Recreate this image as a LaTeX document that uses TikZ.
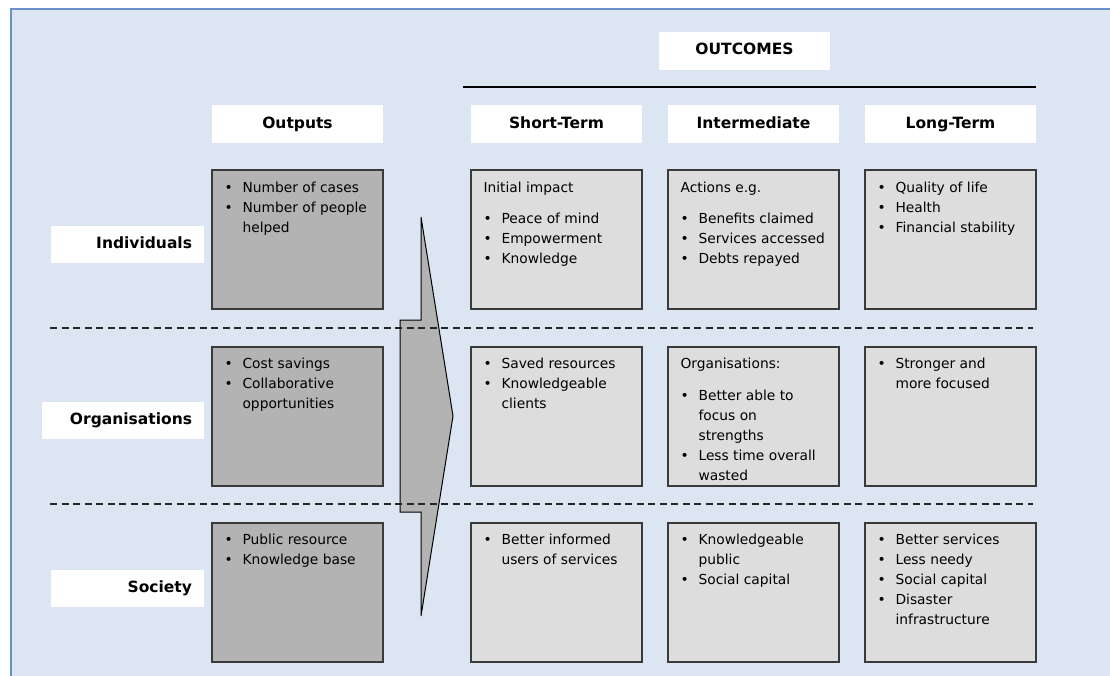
\documentclass[tikz,border=0pt]{standalone}
\usepackage{fontspec}
\setmainfont{DejaVu Sans}
\definecolor{bgblue}{RGB}{220,230,242}
\definecolor{frameblue}{RGB}{108,145,200}
\definecolor{darkfill}{RGB}{179,179,179}
\definecolor{lightfill}{RGB}{221,221,221}
\definecolor{boxline}{RGB}{58,58,58}
\newcommand\bitem[1]{\par\noindent\hangindent=18pt\hangafter=1\makebox[18pt][l]{\textbullet}#1}
\newcommand\intro[1]{\par\noindent #1\par\vskip 11.5pt}
\newcommand\boxtext[1]{\parbox[t]{158pt}{\raggedright\fontsize{13.8}{20}\selectfont #1}}
\begin{document}
\begin{tikzpicture}[x=1pt,y=-1pt,
  hdr/.style={fill=white, inner sep=0, minimum width=171pt, minimum height=38pt,
    text height=11.5pt, text depth=3.5pt, font=\fontsize{15.5}{18}\selectfont\bfseries},
  lbl/.style={fill=white, inner sep=0, minimum height=37pt,
    text height=11.5pt, text depth=3.5pt, font=\fontsize{15.5}{18}\selectfont\bfseries},
  outbox/.style={draw=boxline, line width=1.3pt, fill=darkfill, inner sep=0,
    minimum width=171pt, minimum height=139pt},
  resbox/.style={draw=boxline, line width=1.3pt, fill=lightfill, inner sep=0,
    minimum width=171pt, minimum height=139pt},
  txt/.style={inner sep=0, anchor=base west},
  sep/.style={draw=black!85, line width=1.2pt, dash pattern=on 7pt off 4.5pt},
  bigarrow/.style={draw=black, line width=1pt, fill=darkfill, line join=miter}
]
\useasboundingbox (0,0) rectangle (1110,675);
% frame
\path[fill=bgblue, draw=frameblue, line width=2.2pt] (11.3,9.3) rectangle (1130,700);

% big arrow
\path[bigarrow] (421,217) -- (453,416) -- (421,616) -- (421,512) -- (400,512)
  -- (400,320) -- (421,320) -- cycle;

% dashed separators
\coordinate (d1a) at (50,328); \coordinate (d1b) at (1033,328);
\coordinate (d2a) at (50,504); \coordinate (d2b) at (1033,504);
\draw[sep] (d1a) -- (d1b);
\draw[sep] (d2a) -- (d2b);

% OUTCOMES header and rule
\node[hdr] (outcomes) at (744.5,50.5) {OUTCOMES};
\coordinate (ra) at (463,87); \coordinate (rb) at (1036,87);
\draw[line width=1.2pt] (ra) -- (rb);

% column headers
\node[hdr] (hout) at (297.5,124) {Outputs};
\node[hdr] (hst)  at (556.5,124) {Short-Term};
\node[hdr] (hint) at (753.5,124) {Intermediate};
\node[hdr] (hlt)  at (950.5,124) {Long-Term};

% row labels
\node[lbl, minimum width=153pt] (lind) at (127.5,244.5) {\makebox[129pt][r]{Individuals}};
\node[lbl, minimum width=162pt] (lorg) at (123,420.5) {\makebox[138pt][r]{Organisations}};
\node[lbl, minimum width=153pt] (lsoc) at (127.5,588) {\makebox[129pt][r]{Society}};

% boxes row 1
\node[outbox] (o1) at (297.5,239.5) {};
\node[resbox] (s1) at (556.5,239.5) {};
\node[resbox] (i1) at (753.5,239.5) {};
\node[resbox] (l1) at (950.5,239.5) {};
% row 2
\node[outbox] (o2) at (297.5,416.5) {};
\node[resbox] (s2) at (556.5,416.5) {};
\node[resbox] (i2) at (753.5,416.5) {};
\node[resbox] (l2) at (950.5,416.5) {};
% row 3
\node[outbox] (o3) at (297.5,592.5) {};
\node[resbox] (s3) at (556.5,592.5) {};
\node[resbox] (i3) at (753.5,592.5) {};
\node[resbox] (l3) at (950.5,592.5) {};

% texts
\node[txt] (o1t) at ([shift={(13,23)}]o1.north west) {\boxtext{%
  \bitem{Number of cases}\bitem{Number of people\newline helped}}};
\node[txt] (s1t) at ([shift={(13,23)}]s1.north west) {\boxtext{%
  \intro{Initial impact}\bitem{Peace of mind}\bitem{Empowerment}\bitem{Knowledge}}};
\node[txt] (i1t) at ([shift={(13,23)}]i1.north west) {\boxtext{%
  \intro{Actions e.g.}\bitem{Benefits claimed}\bitem{Services accessed}\bitem{Debts repayed}}};
\node[txt] (l1t) at ([shift={(13,23)}]l1.north west) {\boxtext{%
  \bitem{Quality of life}\bitem{Health}\bitem{Financial stability}}};

\node[txt] (o2t) at ([shift={(13,22.5)}]o2.north west) {\boxtext{%
  \bitem{Cost savings}\bitem{Collaborative\newline opportunities}}};
\node[txt] (s2t) at ([shift={(13,22.5)}]s2.north west) {\boxtext{%
  \bitem{Saved resources}\bitem{Knowledgeable\newline clients}}};
\node[txt] (i2t) at ([shift={(13,22.5)}]i2.north west) {\boxtext{%
  \intro{Organisations:}\bitem{Better able to\newline focus on\newline strengths}\bitem{Less time overall\newline wasted}}};
\node[txt] (l2t) at ([shift={(13,22.5)}]l2.north west) {\boxtext{%
  \bitem{Stronger and\newline more focused}}};

\node[txt] (o3t) at ([shift={(13,22.5)}]o3.north west) {\boxtext{%
  \bitem{Public resource}\bitem{Knowledge base}}};
\node[txt] (s3t) at ([shift={(13,22.5)}]s3.north west) {\boxtext{%
  \bitem{Better informed\newline users of services}}};
\node[txt] (i3t) at ([shift={(13,22.5)}]i3.north west) {\boxtext{%
  \bitem{Knowledgeable\newline public}\bitem{Social capital}}};
\node[txt] (l3t) at ([shift={(13,22.5)}]l3.north west) {\boxtext{%
  \bitem{Better services}\bitem{Less needy}\bitem{Social capital}\bitem{Disaster\newline infrastructure}}};
\end{tikzpicture}
\end{document}
